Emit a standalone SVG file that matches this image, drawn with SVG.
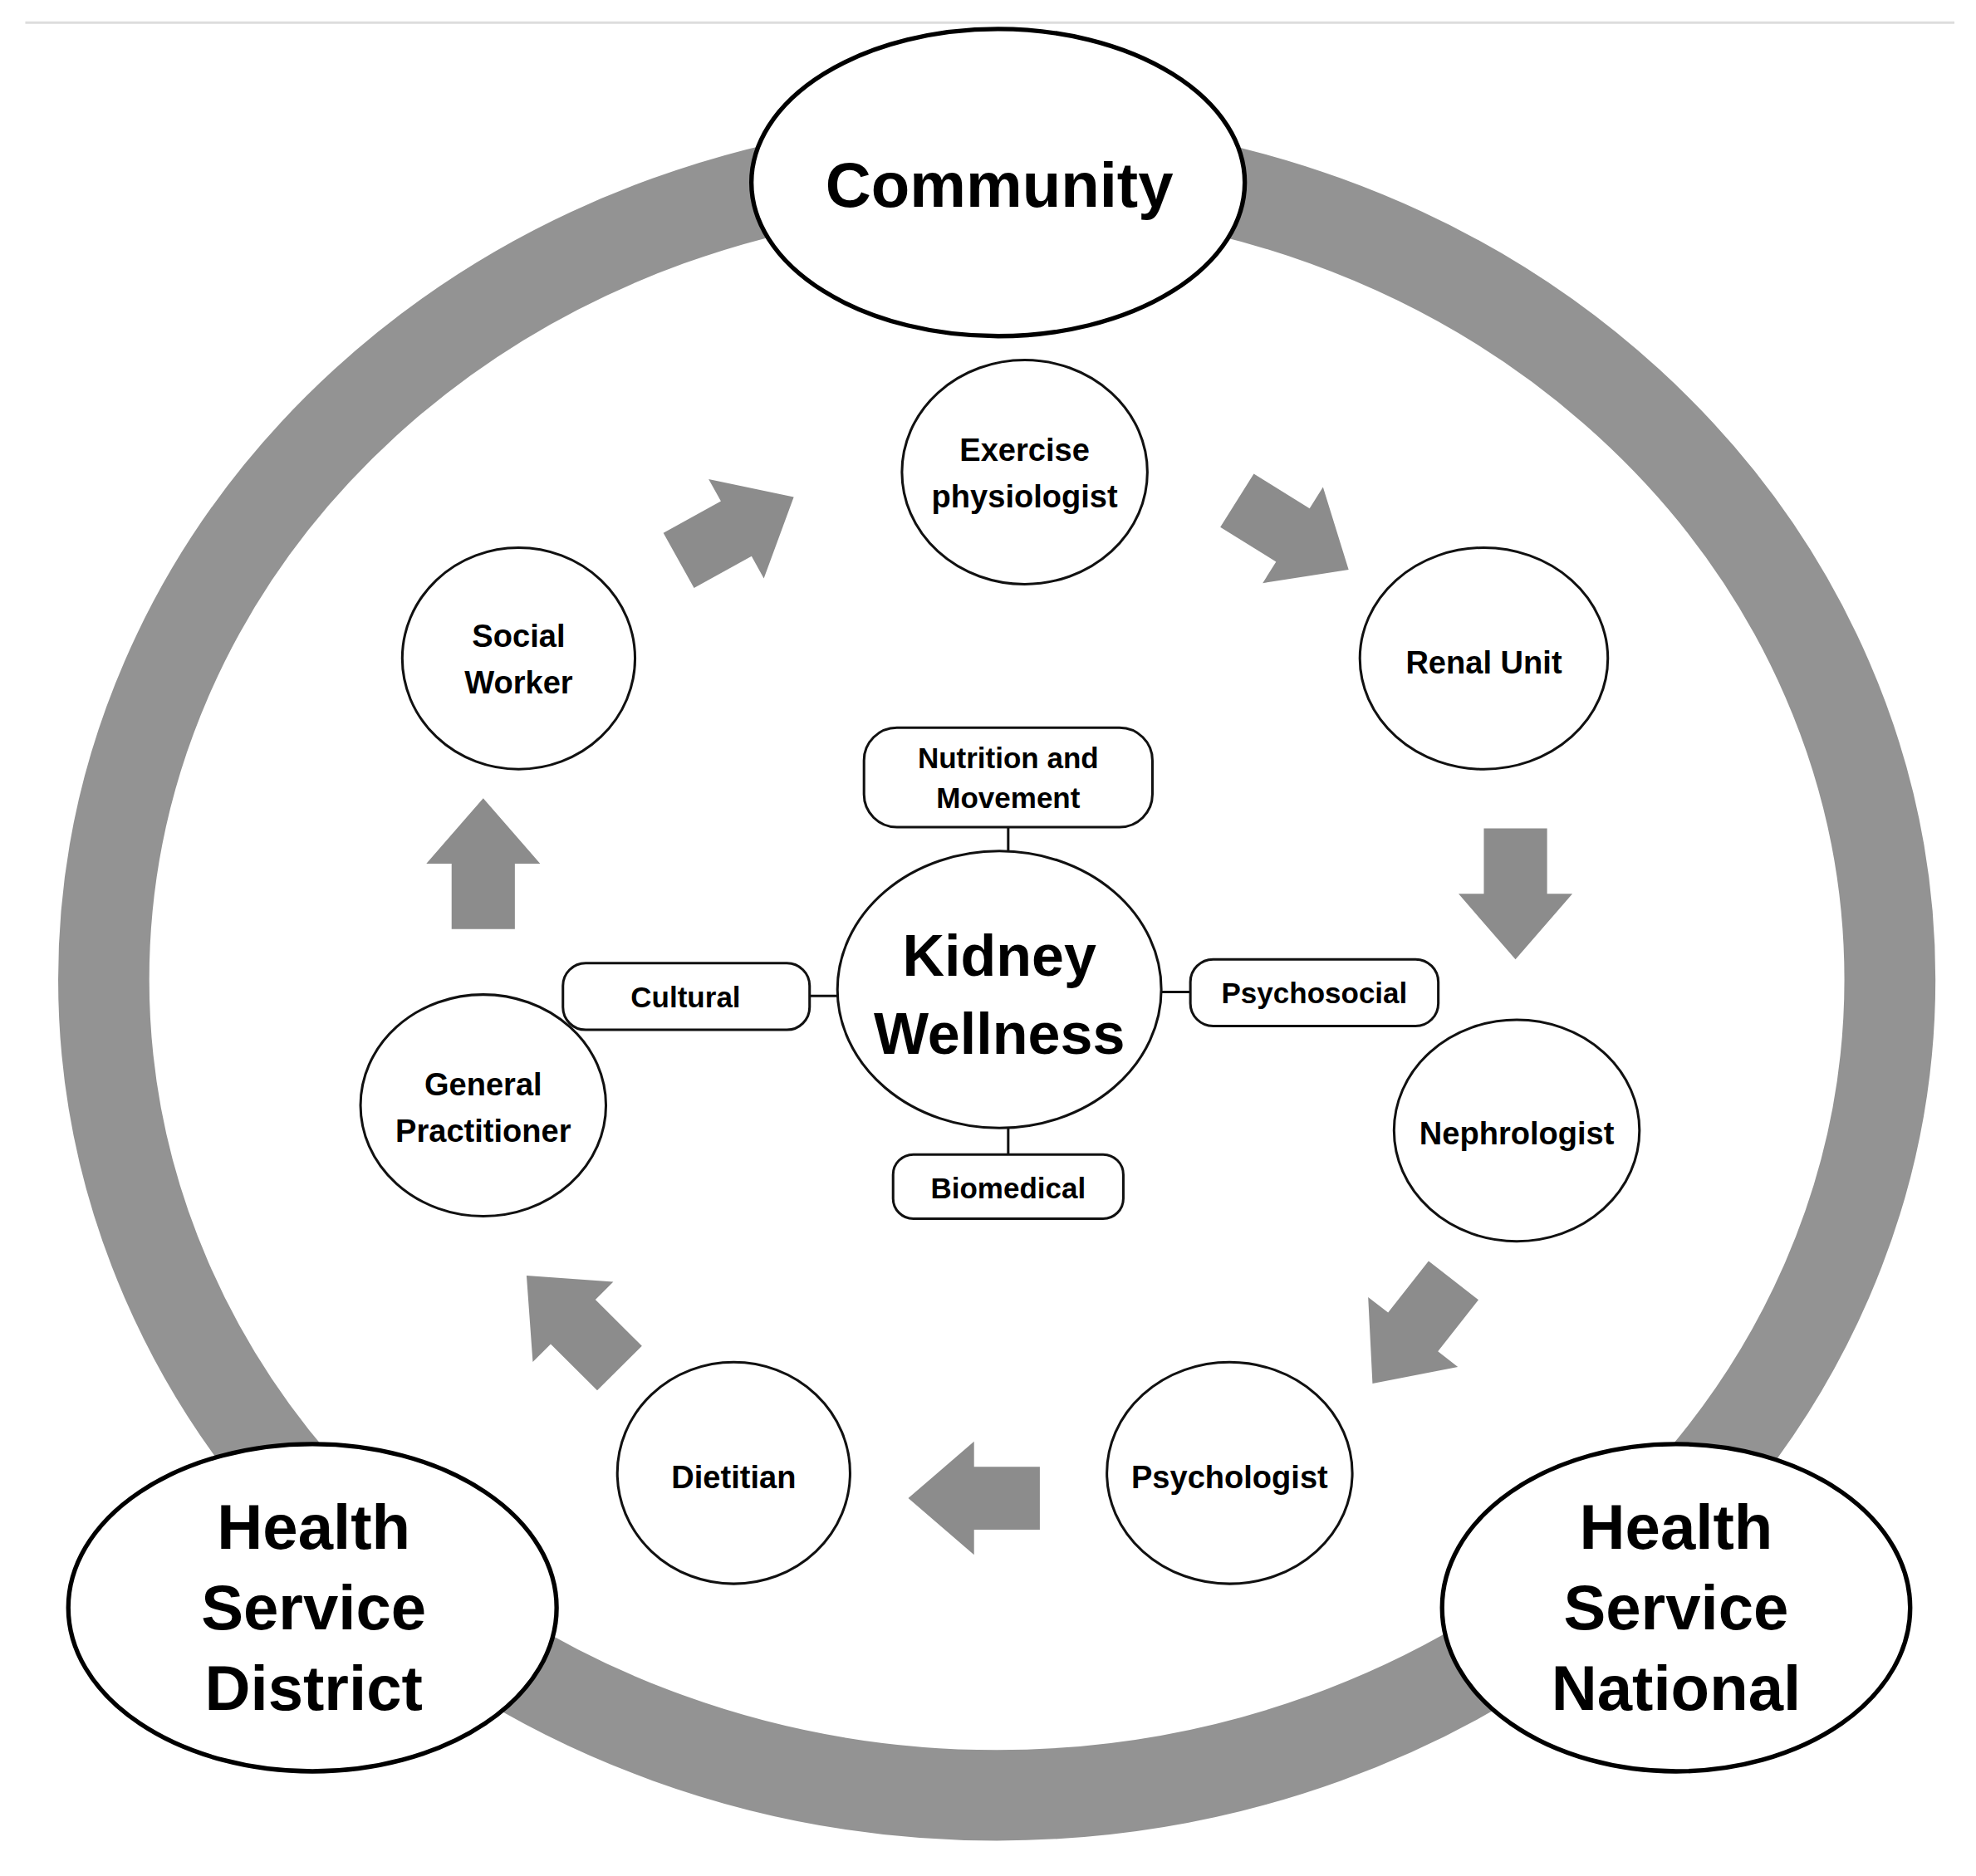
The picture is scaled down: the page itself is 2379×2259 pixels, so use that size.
<svg xmlns="http://www.w3.org/2000/svg" width="2379" height="2259" viewBox="0 0 2379 2259">
<style>
.n{fill:#fff;stroke:#111;stroke-width:2}
.big{fill:#fff;stroke:#000;stroke-width:3.5}
text{font-family:"Liberation Sans",Arial,sans-serif;fill:#000;text-anchor:middle;font-weight:bold}
.t{font-size:25px}
.b{font-size:23px}
.h{font-size:50px}
.a{fill:#8c8c8c}
</style>
<defs><path id="arr" d="M-52,-25 H0 V-45 L52,0 L0,45 V25 H-52 Z"/></defs>
<rect width="2379" height="2259" fill="#fff"/>
<g transform="scale(1.523,1.516)">
<line x1="20" y1="18" x2="1545" y2="18" stroke="#ddd" stroke-width="2"/>
<ellipse id="ring" cx="788" cy="778" rx="706" ry="648" fill="none" stroke="#939393" stroke-width="72"/>
<g id="connectors" stroke="#111" stroke-width="2">
<line x1="797" y1="657" x2="797" y2="678"/>
<line x1="797" y1="895" x2="797" y2="917"/>
<line x1="640" y1="791" x2="663" y2="791"/>
<line x1="917" y1="788" x2="941" y2="788"/>
<g class="a" stroke="none">
<use href="#arr" transform="translate(582,420) rotate(-29)"/>
<use href="#arr" transform="translate(1022,425) rotate(32)"/>
<use href="#arr" transform="translate(1198,710) rotate(90)"/>
<use href="#arr" transform="translate(1117,1058) rotate(128)"/>
<use href="#arr" transform="translate(770,1190) rotate(180)"/>
<use href="#arr" transform="translate(453,1050) rotate(-135)"/>
<use href="#arr" transform="translate(382,686) rotate(-90)"/>
</g>
</g>
<g id="community"><ellipse class="big" cx="789" cy="145" rx="195" ry="122"/><text class="h" x="790" y="164">Community</text></g>
<g id="hsd"><ellipse class="big" cx="247" cy="1277" rx="193" ry="130"/><text class="h" x="248" y="1230">Health</text><text class="h" x="248" y="1294">Service</text><text class="h" x="248" y="1358">District</text></g>
<g id="hsn"><ellipse class="big" cx="1325" cy="1277" rx="185" ry="130"/><text class="h" x="1325" y="1230">Health</text><text class="h" x="1325" y="1294">Service</text><text class="h" x="1325" y="1358">National</text></g>
<g id="exercise"><ellipse class="n" cx="810" cy="375" rx="97" ry="89"/><text class="t" x="810" y="366">Exercise</text><text class="t" x="810" y="403">physiologist</text></g>
<g id="renal"><ellipse class="n" cx="1173" cy="523" rx="98" ry="88"/><text class="t" x="1173" y="535">Renal Unit</text></g>
<g id="neph"><ellipse class="n" cx="1199" cy="898" rx="97" ry="88"/><text class="t" x="1199" y="909">Nephrologist</text></g>
<g id="psych"><ellipse class="n" cx="972" cy="1170" rx="97" ry="88"/><text class="t" x="972" y="1182">Psychologist</text></g>
<g id="diet"><ellipse class="n" cx="580" cy="1170" rx="92" ry="88"/><text class="t" x="580" y="1182">Dietitian</text></g>
<g id="gp"><ellipse class="n" cx="382" cy="878" rx="97" ry="88"/><text class="t" x="382" y="870">General</text><text class="t" x="382" y="907">Practitioner</text></g>
<g id="social"><ellipse class="n" cx="410" cy="523" rx="92" ry="88"/><text class="t" x="410" y="514">Social</text><text class="t" x="410" y="551">Worker</text></g>
<g id="kidney"><ellipse class="n" cx="790" cy="786" rx="128" ry="110"/><text x="790" y="775" font-size="46">Kidney</text><text x="790" y="837" font-size="46">Wellness</text></g>
<g id="nutrition"><rect class="n" x="683" y="578" width="228" height="79" rx="26"/><text class="b" x="797" y="610">Nutrition and</text><text class="b" x="797" y="642">Movement</text></g>
<g id="biomedical"><rect class="n" x="706" y="917" width="182" height="51" rx="16"/><text class="b" x="797" y="952">Biomedical</text></g>
<g id="cultural"><rect class="n" x="445" y="765" width="195" height="53" rx="18"/><text class="b" x="542" y="800">Cultural</text></g>
<g id="psychosocial"><rect class="n" x="941" y="762" width="196" height="53" rx="18"/><text class="b" x="1039" y="797">Psychosocial</text></g>
</g>
</svg>
